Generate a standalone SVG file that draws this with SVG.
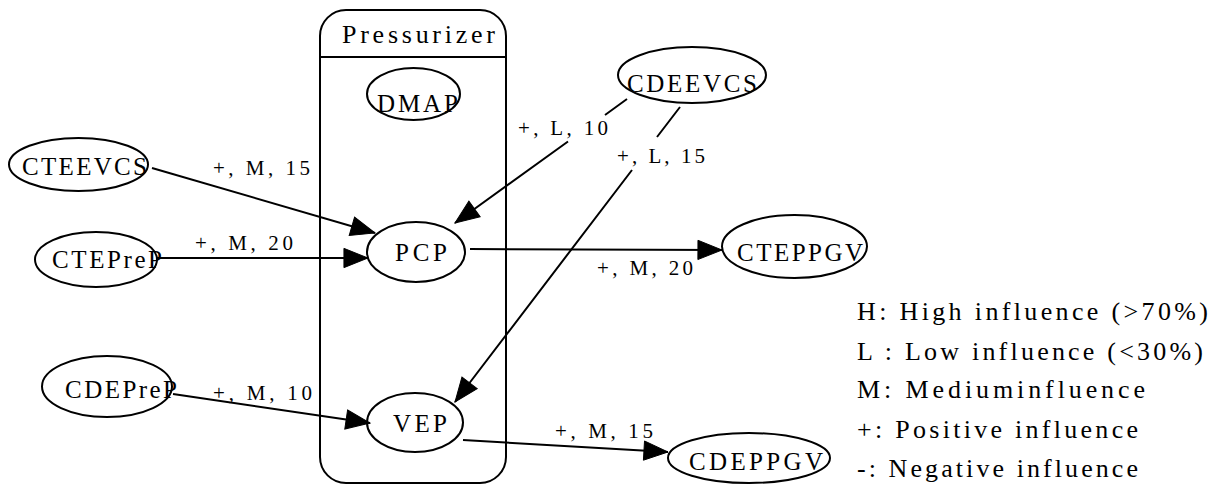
<svg xmlns="http://www.w3.org/2000/svg" width="1218" height="485" viewBox="0 0 1218 485">
<style>
.txt{font-family:'Liberation Serif','DejaVu Serif','Times New Roman',Times,serif;fill:#000}
.shape{fill:none;stroke:#000;stroke-width:2}
</style>
<defs>
<marker id="ah" markerUnits="userSpaceOnUse" markerWidth="26" markerHeight="22" refX="25" refY="10" orient="auto" viewBox="-1 -1 27 22">
<path d="M0,0 L25,10 L0,20 z" fill="#000" stroke="#000" stroke-width="1"/>
</marker>
</defs>
<rect width="1218" height="485" fill="#fff"/>
<g class="txt">
<g id="cluster-pressurizer">
<rect class="shape" x="320" y="10" width="186" height="473" rx="26" ry="26"/>
<line class="shape" x1="320" y1="57" x2="506" y2="57"/>
<text x="342" y="43" style="font-size:26px" textLength="153" lengthAdjust="spacing">Pressurizer</text>
</g>
<g id="connectors" class="shape">
<path d="M152,168 L375,233" marker-end="url(#ah)"/>
<path d="M157,258 L368,258" marker-end="url(#ah)"/>
<path d="M173,394 L370,423" marker-end="url(#ah)"/>
<path d="M627,99 L605,115 M568,141.5 L455,223" marker-end="url(#ah)"/>
<path d="M680,107 L657,137 M632,170 L455,402" marker-end="url(#ah)"/>
<path d="M470,249 L722,250" marker-end="url(#ah)"/>
<path d="M463,440 L668,452" marker-end="url(#ah)"/>
</g>
<g id="edge-labels" style="font-size:21px">
<text x="213" y="175" textLength="97" lengthAdjust="spacing">+, M, 15</text>
<text x="195" y="250" textLength="98" lengthAdjust="spacing">+, M, 20</text>
<text x="213" y="400" textLength="99" lengthAdjust="spacing">+, M, 10</text>
<text x="518" y="135" textLength="90" lengthAdjust="spacing">+, L, 10</text>
<text x="617" y="163" textLength="88" lengthAdjust="spacing">+, L, 15</text>
<text x="597" y="275" textLength="96" lengthAdjust="spacing">+, M, 20</text>
<text x="555" y="438" textLength="98" lengthAdjust="spacing">+, M, 15</text>
</g>
<g style="font-size:25px">
<g id="DMAP">
<ellipse class="shape" cx="413.5" cy="94" rx="46.5" ry="26"/>
<text x="377" y="112" textLength="81" lengthAdjust="spacing">DMAP</text>
</g>
<g id="PCP">
<ellipse class="shape" cx="416" cy="252" rx="49" ry="30"/>
<text x="395" y="261" textLength="52" lengthAdjust="spacing">PCP</text>
</g>
<g id="VEP">
<ellipse class="shape" cx="415" cy="422.5" rx="48" ry="29.5"/>
<text x="393" y="432" textLength="54" lengthAdjust="spacing">VEP</text>
</g>
<g id="CTEEVCS">
<ellipse class="shape" cx="78.5" cy="164.5" rx="69.5" ry="26.5"/>
<text x="22" y="175" textLength="125" lengthAdjust="spacing">CTEEVCS</text>
</g>
<g id="CTEPreP">
<ellipse class="shape" cx="96" cy="259.5" rx="61" ry="27.5"/>
<text x="52" y="268" textLength="110" lengthAdjust="spacing">CTEPreP</text>
</g>
<g id="CDEPreP">
<ellipse class="shape" cx="107" cy="386.5" rx="65" ry="30.5"/>
<text x="65" y="398" textLength="112" lengthAdjust="spacing">CDEPreP</text>
</g>
<g id="CDEEVCS">
<ellipse class="shape" cx="692" cy="75" rx="74" ry="28"/>
<text x="627" y="92" textLength="130" lengthAdjust="spacing">CDEEVCS</text>
</g>
<g id="CTEPPGV">
<ellipse class="shape" cx="794.5" cy="246.5" rx="72.5" ry="31.5"/>
<text x="737" y="261" textLength="126" lengthAdjust="spacing">CTEPPGV</text>
</g>
<g id="CDEPPGV">
<ellipse class="shape" cx="749" cy="458" rx="81" ry="25"/>
<text x="689" y="470" textLength="134" lengthAdjust="spacing">CDEPPGV</text>
</g>
</g>
<g id="legend" style="font-size:26px">
<text x="857" y="320" textLength="351" lengthAdjust="spacing">H: High influence (&gt;70%)</text>
<text x="857" y="360" textLength="346" lengthAdjust="spacing">L : Low influence (&lt;30%)</text>
<text x="857" y="398" textLength="288" lengthAdjust="spacing">M: Mediuminfluence</text>
<text x="857" y="438" textLength="281" lengthAdjust="spacing">+: Positive influence</text>
<text x="857" y="477" textLength="281" lengthAdjust="spacing">-: Negative influence</text>
</g>
</g>
</svg>
